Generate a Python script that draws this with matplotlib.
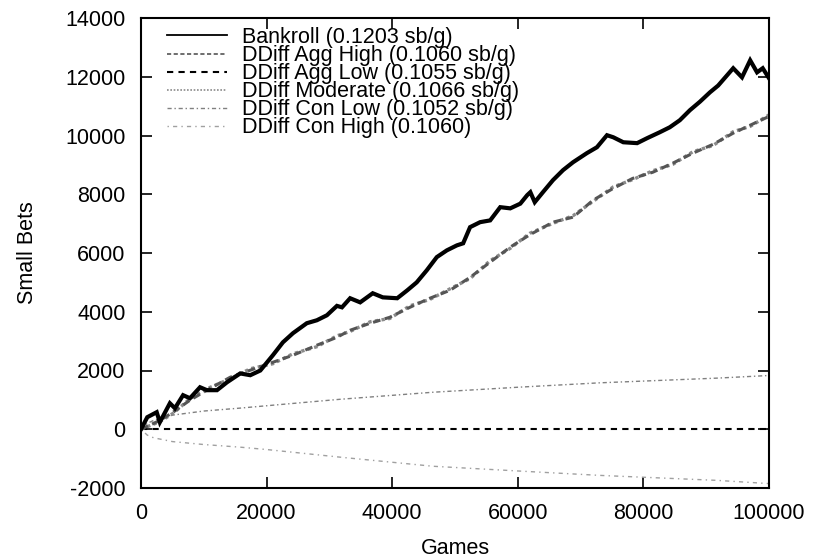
import matplotlib
matplotlib.use("Agg")
import matplotlib.pyplot as plt
from matplotlib.lines import Line2D

plt.rcParams['font.family'] = ['Liberation Sans', 'DejaVu Sans']
plt.rcParams['axes.unicode_minus'] = False

# ---- data ----
bank_games = [0, 1000, 2500, 3000, 4600, 5400, 6700, 7800, 9400, 10500, 12100, 13700,
              15800, 17400, 19000, 21000, 22600, 24200, 26400, 28000, 29600, 31200,
              32000, 33300, 34900, 36900, 38500, 40800, 42400, 43900, 45500, 47100,
              48700, 50300, 51300, 52400, 54000, 55600, 57200, 58800, 60400, 61500,
              62000, 62700, 64000, 65600, 67200, 68800, 71000, 72600, 74200, 75200,
              76800, 79000, 80600, 82600, 84200, 85800, 87400, 89000, 90600, 91900,
              94300, 95700, 97000, 98100, 99000, 100000]
bank_vals = [0, 410, 580, 240, 885, 715, 1160, 1055, 1430, 1330, 1330, 1600,
             1900, 1840, 2000, 2520, 2960, 3270, 3610, 3710, 3880, 4200,
             4150, 4460, 4320, 4630, 4490, 4460, 4730, 5000, 5410, 5860,
             6090, 6260, 6330, 6880, 7050, 7110, 7560, 7520, 7680, 7970,
             8070, 7730, 8070, 8480, 8820, 9090, 9400, 9600, 10010, 9940,
             9770, 9740, 9910, 10110, 10280, 10520, 10860, 11150, 11470, 11700,
             12290, 11980, 12560, 12150, 12290, 11950]

dd_games = [0, 3000, 5100, 7800, 10500, 14200, 17400, 21000, 24200, 28000, 31200,
            33300, 36500, 39600, 42800, 46000, 49200, 52400, 55600, 58800, 61900,
            65600, 68800, 72000, 75200, 78300, 81500, 84700, 87900, 91100, 94300,
            97000, 100000]
agg_high_vals = [0, 300, 580, 990, 1330, 1770, 2010, 2280, 2520, 2860, 3130,
                 3370, 3610, 3810, 4150, 4460, 4730, 5170, 5690, 6200, 6620,
                 7050, 7220, 7800, 8200, 8540, 8750, 9060, 9400, 9700, 10080,
                 10350, 10650]
moderate_vals = [0, 260, 540, 1040, 1380, 1720, 2060, 2230, 2570, 2810, 3180,
                 3330, 3660, 3770, 4200, 4420, 4780, 5130, 5740, 6160, 6670,
                 7010, 7270, 7760, 8250, 8500, 8800, 9020, 9450, 9660, 10130,
                 10310, 10700]

agg_low_games = [0, 100000]
agg_low_vals = [0, 0]

con_games = [0, 1000, 2000, 5000, 10000, 15800, 20000, 31700, 46500, 60000, 73000,
             91700, 100000]
con_low_vals = [0, 200, 300, 480, 620, 720, 800, 1020, 1260, 1430, 1580, 1740, 1830]
con_high_vals = [0, -200, -290, -420, -520, -610, -690, -950, -1260, -1420, -1570,
                 -1740, -1850]

labels = ["Bankroll (0.1203 sb/g)", "DDiff Agg High (0.1060 sb/g)",
          "DDiff Agg Low (0.1055 sb/g)", "DDiff Moderate (0.1066 sb/g)",
          "DDiff Con Low (0.1052 sb/g)", "DDiff Con High (0.1060)"]

# ---- figure ----
fig = plt.figure(figsize=(8.13, 5.6), dpi=100)
ax = fig.add_axes([141/813, 1-488/560, (769-141)/813, (488-18)/560])

styles = [
    dict(color='black', ls='-', lw=1.3),
    dict(color='#555555', ls=(0, (2.5, 1.5)), lw=1.2),
    dict(color='black', ls=(0, (3, 2.5)), lw=1.5),
    dict(color='#8a8a8a', ls=(0, (1, 1)), lw=1.2),
    dict(color='#808080', ls=(0, (3, 2, 1, 2)), lw=1.0),
    dict(color='#a0a0a0', ls=(0, (1, 3, 3, 3)), lw=1.0),
]

ax.plot(con_games, con_high_vals, **styles[5])
ax.plot(con_games, con_low_vals, **styles[4])
ax.plot(agg_low_games, agg_low_vals, **styles[2])
ax.plot(dd_games, moderate_vals, **{**styles[3], 'lw': 2.4})
ax.plot(dd_games, agg_high_vals, **{**styles[1], 'lw': 2.2})
ax.plot(bank_games, bank_vals, color='black', lw=3.0, solid_joinstyle='miter')

ax.set_xlim(0, 100000)
ax.set_ylim(-2000, 14000)
ax.set_xticks(range(0, 100001, 20000))
ax.set_yticks(range(-2000, 14001, 2000))
ax.tick_params(direction='in', length=8, width=1.2, top=True, right=True,
               labelsize=15.5, pad=11)
for s in ax.spines.values():
    s.set_linewidth(1.5)

ax.set_xlabel("Games", fontsize=15.5, labelpad=10)
ax.set_ylabel("Small Bets", fontsize=15.5, labelpad=20)

handles = [Line2D([], [], **st) for st in styles]
leg = ax.legend(handles, labels, loc='upper left', bbox_to_anchor=(26/628, 1 - 9/470),
                frameon=False, fontsize=15.5, handlelength=2.8, handletextpad=0.7,
                labelspacing=-0.135, borderpad=0, borderaxespad=0)

fig.savefig("out.png", dpi=100)
